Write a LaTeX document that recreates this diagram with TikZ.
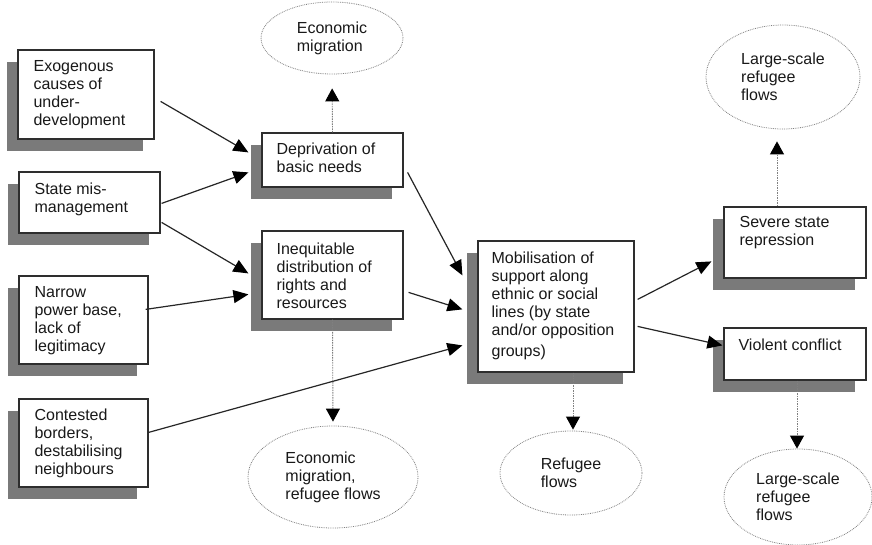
\documentclass[tikz,border=0pt]{standalone}
\usepackage{fontspec}
\setmainfont{Liberation Sans}
\usetikzlibrary{arrows.meta,shapes.geometric,shadows}
\definecolor{shadowgrey}{HTML}{7A7A7A}
\definecolor{edgegrey}{HTML}{2E2E2E}
\definecolor{dotgrey}{HTML}{808080}
\tikzset{
  every node/.style={font=\fontsize{16}{18}\selectfont},
  box/.style={draw=edgegrey, line width=1.2pt, fill=white, inner sep=0pt,
    drop shadow={shadow xshift=-11pt, shadow yshift=-12pt, fill=shadowgrey, opacity=1}},
  txt/.style={anchor=north west, inner sep=0pt, align=left, text=black!90},
  outcome/.style={ellipse, draw=dotgrey, densely dotted, line width=0.8pt,
    inner sep=0pt, align=left, text=black!90},
  arr/.style={draw=black!85, line width=1.2pt, -{Triangle[length=15pt,width=13pt,color=black]}},
  dotarr/.style={draw=dotgrey, line width=0.9pt, dash pattern=on 1.5pt off 1pt,
    -{Triangle[length=13pt,width=14pt,color=black]}},
}
\begin{document}
\begin{tikzpicture}[x=1pt,y=-1pt]
\useasboundingbox[fill=white] (0,0) rectangle (872,545);

% causes (left column)
\node[box, minimum width=136pt, minimum height=89pt] (exo) at (86,94.5) {};
\node[txt] (exo-t) at ([xshift=16pt,yshift=-11pt]exo.north west) {Exogenous\\causes of\\under-\\development};
\node[box, minimum width=141pt, minimum height=61pt] (smm) at (89.5,202.5) {};
\node[txt] (smm-t) at ([xshift=16pt,yshift=-11pt]smm.north west) {State mis-\\management};
\node[box, minimum width=129pt, minimum height=88pt] (npb) at (83.5,320) {};
\node[txt] (npb-t) at ([xshift=16pt,yshift=-11pt]npb.north west) {Narrow\\power base,\\lack of\\legitimacy};
\node[box, minimum width=129pt, minimum height=88pt] (cb) at (83.5,443) {};
\node[txt] (cb-t) at ([xshift=16pt,yshift=-10pt]cb.north west) {Contested\\borders,\\destabilising\\neighbours};

% intermediate conditions
\node[box, minimum width=141pt, minimum height=54pt] (dep) at (332.5,160) {};
\node[txt] (dep-t) at ([xshift=15pt,yshift=-10pt]dep.north west) {Deprivation of\\basic needs};
\node[box, minimum width=141pt, minimum height=88pt] (ineq) at (332.5,275) {};
\node[txt] (ineq-t) at ([xshift=15pt,yshift=-12pt]ineq.north west) {Inequitable\\distribution of\\rights and\\resources};

% mobilisation
\node[box, minimum width=156pt, minimum height=131pt] (mob) at (556,306.5) {};
\node[txt] (mob-t) at ([xshift=14pt,yshift=-11pt]mob.north west) {Mobilisation of\\support along\\ethnic or social\\lines (by state\\and/or opposition\\[3pt]groups)};

% escalation
\node[box, minimum width=142pt, minimum height=71pt] (sev) at (795,242.5) {};
\node[txt] (sev-t) at ([xshift=16pt,yshift=-10pt]sev.north west) {Severe state\\repression};
\node[box, minimum width=142pt, minimum height=52pt] (vio) at (795,354) {};
\node[txt] (vio-t) at ([xshift=15pt,yshift=-11pt]vio.north west) {Violent conflict};

% outcomes
\node[outcome, minimum width=142pt, minimum height=72pt] (em1) at (332,38) {Economic\\migration};
\node[outcome, minimum width=170pt, minimum height=102pt] (emr) at (333,477) {Economic\\migration,\\refugee flows};
\node[outcome, minimum width=142pt, minimum height=84pt] (rf) at (571,473) {Refugee\\flows};
\node[outcome, minimum width=154pt, minimum height=104pt] (ls1) at (783,77) {Large-scale\\refugee\\flows};
\node[outcome, minimum width=148pt, minimum height=96pt] (ls2) at (798,497) {Large-scale\\refugee\\flows};

% causal links
\draw[arr] ([xshift=6pt,yshift=-52pt]exo.north east) -- ([xshift=-13pt,yshift=-20pt]dep.north west);
\draw[arr] ([xshift=1pt,yshift=-32pt]smm.north east) -- ([xshift=-13pt,yshift=-40pt]dep.north west);
\draw[arr] ([xshift=1pt,yshift=-51pt]smm.north east) -- ([xshift=-13pt,yshift=-43pt]ineq.north west);
\draw[arr] ([xshift=-3pt,yshift=-34pt]npb.north east) -- ([xshift=-13pt,yshift=-64pt]ineq.north west);
\draw[arr] ([yshift=-34pt]cb.north east) -- ([xshift=-15pt,yshift=-105pt]mob.north west);
\draw[arr] ([xshift=4pt,yshift=-40pt]dep.north east) -- ([xshift=-15pt,yshift=-35pt]mob.north west);
\draw[arr] ([xshift=5pt,yshift=-62pt]ineq.north east) -- ([xshift=-15pt,yshift=-69pt]mob.north west);
\draw[arr] ([xshift=3pt,yshift=-59pt]mob.north east) -- ([xshift=-12pt,yshift=-55pt]sev.north west);
\draw[arr] ([xshift=3pt,yshift=-86pt]mob.north east) -- ([xshift=-1pt,yshift=-18pt]vio.north west);

% displacement outcomes
\draw[dotarr, shorten >=14pt] (dep.north) -- (em1.south);
\draw[dotarr, shorten >=4pt] (ineq.south) -- (emr.north);
\draw[dotarr, shorten >=1pt] ([xshift=17pt]mob.south) -- ([xshift=2pt]rf.north);
\draw[dotarr, shorten >=12pt] ([xshift=-18pt]sev.north) -- ([xshift=-6pt]ls1.south);
\draw[dotarr] ([xshift=2pt]vio.south) -- ([xshift=-1pt]ls2.north);
\end{tikzpicture}
\end{document}
